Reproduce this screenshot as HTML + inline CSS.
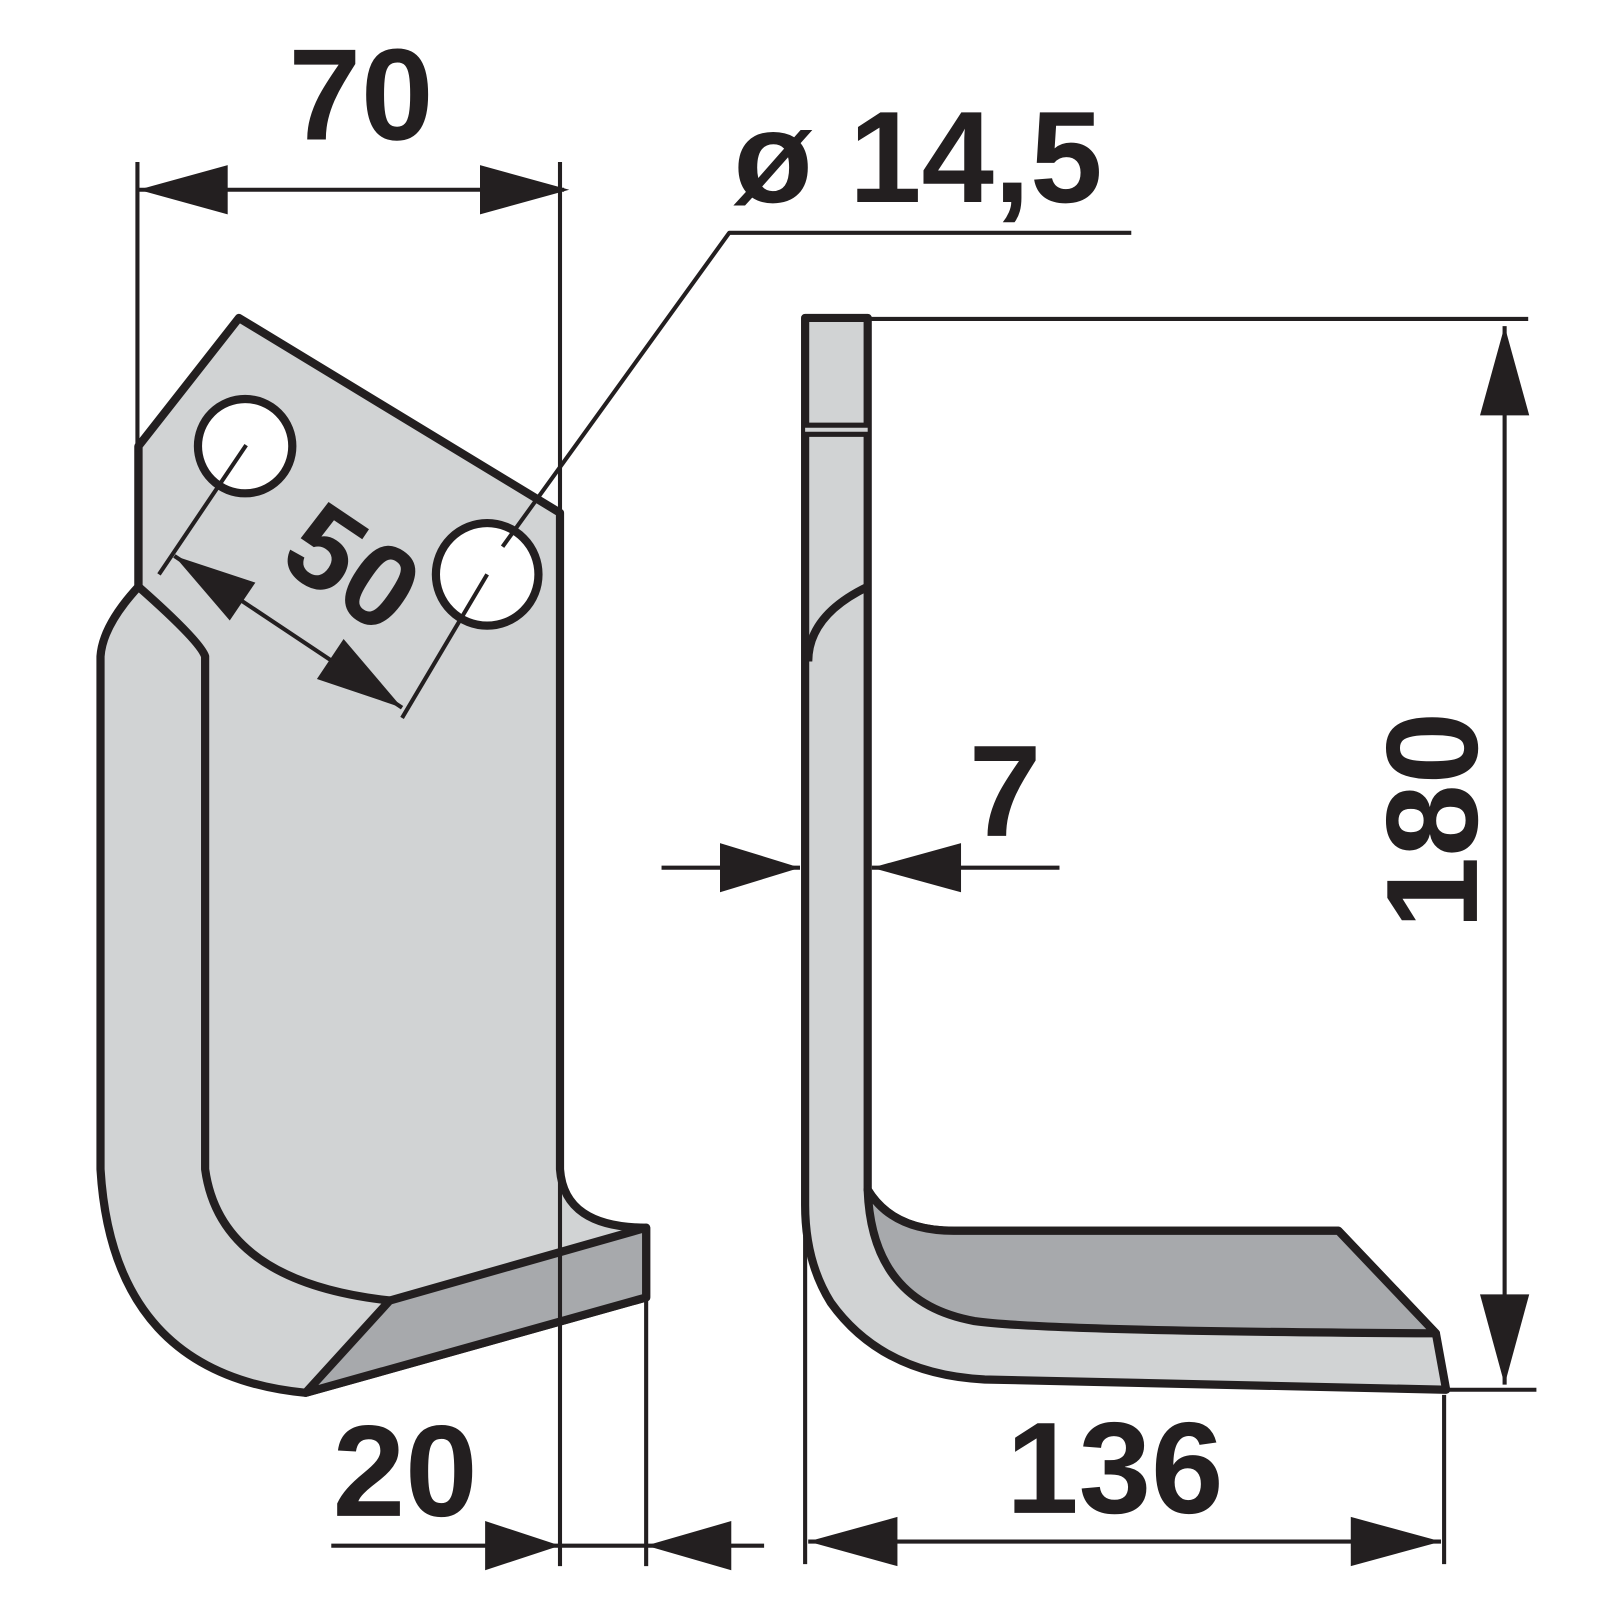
<!DOCTYPE html>
<html><head><meta charset="utf-8"><style>
html,body{margin:0;padding:0;background:#fff;}
svg{display:block}
text{font-family:"Liberation Sans",sans-serif;font-weight:bold;fill:#231f20}
</style></head><body>
<svg width="1600" height="1600" viewBox="0 0 1560 1560" xmlns="http://www.w3.org/2000/svg">
<g stroke="#231f20" stroke-linejoin="round" fill="none">
<!-- left blade -->
<path d="M135,435 L233,310 L546,500 L546,1140 Q550,1197 630,1197 L630,1265 L298,1358 Q110,1340 98,1140 L98,640 Q100,610 135,572 Z" fill="#d1d3d4" stroke-width="8"/>
<path d="M380,1268 L630,1197 L630,1265 L298,1358 Z" fill="#a7a9ac" stroke-width="8"/>
<path d="M135,572 Q195,625 200,640 L200,1140 Q215,1250 380,1268" stroke-width="8"/>
<line x1="135" y1="435" x2="135" y2="572" stroke-width="8"/>
<circle cx="239" cy="435" r="46" fill="#fff" stroke-width="8"/>
<circle cx="475" cy="560" r="50" fill="#fff" stroke-width="8"/>
<!-- right blade -->
<path d="M785,310 L846,310 L846,1160 Q870,1200 930,1200 L1305,1200 L1400,1300 L1410,1355 L960,1345 Q860,1340 810,1270 Q785,1230 785,1175 Z" fill="#d1d3d4" stroke-width="8"/>
<path d="M846,1160 Q870,1200 930,1200 L1305,1200 L1400,1300 Q1020,1298 950,1288 Q850,1270 846,1160 Z" fill="#a7a9ac" stroke-width="8"/>
<line x1="785" y1="419" x2="846" y2="419" stroke-width="14"/>
<line x1="785" y1="419" x2="846" y2="419" stroke="#d1d3d4" stroke-width="4"/>
<path d="M846,572 Q788,600 788,645" stroke-width="8"/>
<!-- dimension lines -->
<g stroke-width="4">
<line x1="134" y1="158" x2="134" y2="440"/>
<line x1="546" y1="158" x2="546" y2="1527"/>
<line x1="135" y1="185" x2="550" y2="185"/>
<polyline points="490,533 711,227 1103,227"/>
<line x1="155" y1="560" x2="240" y2="434"/>
<line x1="392" y1="700" x2="475" y2="560"/>
<line x1="170" y1="542" x2="392" y2="690"/>
<line x1="846" y1="311" x2="1490" y2="311"/>
<line x1="1410" y1="1355" x2="1498" y2="1355"/>
<line x1="1467" y1="318" x2="1467" y2="1350"/>
<line x1="645" y1="846" x2="780" y2="846"/>
<line x1="850" y1="846" x2="1033" y2="846"/>
<line x1="785" y1="1205" x2="785" y2="1525"/>
<line x1="1408" y1="1360" x2="1408" y2="1525"/>
<line x1="788" y1="1503" x2="1405" y2="1503"/>
<line x1="630" y1="1265" x2="630" y2="1527"/>
<line x1="323" y1="1507" x2="745" y2="1507"/>
</g>
</g>
<g fill="#231f20">
<polygon points="135,185 222,161 222,209"/>
<polygon points="555,185 468,161 468,209"/>
<polygon points="170,542 249,568 224,605"/>
<polygon points="392,690 335,623 309,662"/>
<polygon points="1467,318 1443,405 1491,405"/>
<polygon points="1467,1350 1443,1262 1491,1262"/>
<polygon points="780,846 702,822 702,870"/>
<polygon points="850,846 937,822 937,870"/>
<polygon points="788,1503 875,1479 875,1527"/>
<polygon points="1405,1503 1317,1479 1317,1527"/>
<polygon points="546,1507 473,1483 473,1531"/>
<polygon points="630,1507 713,1483 713,1531"/>
</g>
<text x="352" y="136" font-size="127" text-anchor="middle">70</text>
<text x="715" y="197" font-size="127">ø 14,5</text>
<text x="0" y="0" font-size="115" text-anchor="middle" transform="translate(322,586) rotate(34)">50</text>
<text x="980" y="815" font-size="127" text-anchor="middle">7</text>
<text x="0" y="0" font-size="127" text-anchor="middle" transform="translate(1440,800) rotate(-90)">180</text>
<text x="1087" y="1475" font-size="127" text-anchor="middle">136</text>
<text x="395" y="1478" font-size="127" text-anchor="middle">20</text>
</svg>
</body></html>
